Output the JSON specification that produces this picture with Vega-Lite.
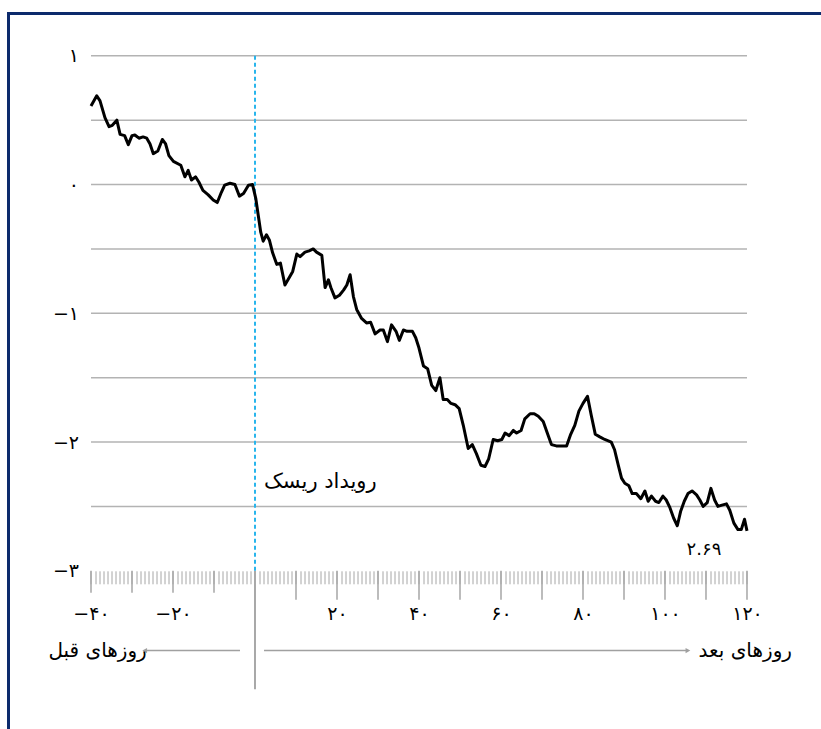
{
  "$schema": "https://vega.github.io/schema/vega-lite/v6.json",
  "width": 812.5,
  "height": 715.5,
  "autosize": "none",
  "padding": {"left": 8.5, "top": 13.5, "right": 0, "bottom": 0},
  "background": "white",
  "config": {
    "view": {"stroke": null},
    "font": "DejaVu Sans"
  },
  "datasets": {
    "series": [
      {"day": -40, "v": 0.61}, {"day": -38.6, "v": 0.69}, {"day": -37.8, "v": 0.65}, {"day": -36.6, "v": 0.52},
      {"day": -35.6, "v": 0.45}, {"day": -34.8, "v": 0.46}, {"day": -33.7, "v": 0.5}, {"day": -32.9, "v": 0.39},
      {"day": -31.8, "v": 0.38}, {"day": -30.9, "v": 0.31}, {"day": -30, "v": 0.38}, {"day": -29.3, "v": 0.385},
      {"day": -28.3, "v": 0.36}, {"day": -27.3, "v": 0.37}, {"day": -26.4, "v": 0.36}, {"day": -25.6, "v": 0.315},
      {"day": -24.8, "v": 0.24}, {"day": -23.7, "v": 0.26}, {"day": -22.6, "v": 0.35}, {"day": -21.8, "v": 0.315},
      {"day": -21, "v": 0.225}, {"day": -19.9, "v": 0.18}, {"day": -18.1, "v": 0.15}, {"day": -17.1, "v": 0.06},
      {"day": -16.3, "v": 0.11}, {"day": -15.5, "v": 0.035}, {"day": -14.5, "v": 0.06}, {"day": -13.7, "v": 0.02},
      {"day": -12.7, "v": -0.045}, {"day": -11.4, "v": -0.08}, {"day": -10.2, "v": -0.12}, {"day": -9.2, "v": -0.14},
      {"day": -8.2, "v": -0.06}, {"day": -7.4, "v": -0.005}, {"day": -6.1, "v": 0.01}, {"day": -4.9, "v": 0.0},
      {"day": -3.8, "v": -0.09}, {"day": -2.8, "v": -0.07}, {"day": -1.6, "v": -0.005}, {"day": -0.6, "v": 0.0},
      {"day": 0.2, "v": -0.11}, {"day": 0.8, "v": -0.24}, {"day": 1.4, "v": -0.37}, {"day": 2.0, "v": -0.44},
      {"day": 2.8, "v": -0.39}, {"day": 3.5, "v": -0.43}, {"day": 4.3, "v": -0.53}, {"day": 5.3, "v": -0.62},
      {"day": 6.2, "v": -0.61}, {"day": 7.3, "v": -0.78}, {"day": 8.4, "v": -0.72}, {"day": 9.2, "v": -0.675},
      {"day": 10.2, "v": -0.54}, {"day": 11.0, "v": -0.56}, {"day": 12.2, "v": -0.525}, {"day": 13.2, "v": -0.515},
      {"day": 14.2, "v": -0.5}, {"day": 15.0, "v": -0.525}, {"day": 16.3, "v": -0.55}, {"day": 17.1, "v": -0.8},
      {"day": 17.9, "v": -0.74}, {"day": 18.5, "v": -0.8}, {"day": 19.5, "v": -0.88}, {"day": 20.6, "v": -0.86},
      {"day": 21.6, "v": -0.82}, {"day": 22.4, "v": -0.78}, {"day": 23.2, "v": -0.7}, {"day": 24.0, "v": -0.87},
      {"day": 24.8, "v": -0.97}, {"day": 26.0, "v": -1.04}, {"day": 27.2, "v": -1.075}, {"day": 28.2, "v": -1.07},
      {"day": 29.3, "v": -1.16}, {"day": 30.5, "v": -1.13}, {"day": 31.3, "v": -1.13}, {"day": 32.3, "v": -1.22},
      {"day": 33.3, "v": -1.09}, {"day": 34.4, "v": -1.14}, {"day": 35.2, "v": -1.21}, {"day": 36.2, "v": -1.13},
      {"day": 37.1, "v": -1.14}, {"day": 38.4, "v": -1.14}, {"day": 39.2, "v": -1.19}, {"day": 40.0, "v": -1.27},
      {"day": 41.1, "v": -1.41}, {"day": 42.1, "v": -1.43}, {"day": 43.1, "v": -1.56}, {"day": 44.1, "v": -1.6},
      {"day": 45.1, "v": -1.5}, {"day": 45.9, "v": -1.67}, {"day": 46.9, "v": -1.67}, {"day": 47.8, "v": -1.7},
      {"day": 48.8, "v": -1.71}, {"day": 49.8, "v": -1.74}, {"day": 50.8, "v": -1.87}, {"day": 52.0, "v": -2.05},
      {"day": 53.0, "v": -2.02}, {"day": 54.0, "v": -2.09}, {"day": 55.1, "v": -2.18}, {"day": 56.1, "v": -2.19},
      {"day": 57.0, "v": -2.13}, {"day": 58.1, "v": -1.98}, {"day": 59.2, "v": -1.99}, {"day": 60.2, "v": -1.98},
      {"day": 61.0, "v": -1.93}, {"day": 62.0, "v": -1.95}, {"day": 63.0, "v": -1.91}, {"day": 63.8, "v": -1.93},
      {"day": 64.9, "v": -1.91}, {"day": 65.8, "v": -1.82}, {"day": 67.1, "v": -1.78}, {"day": 68.1, "v": -1.78},
      {"day": 69.1, "v": -1.8}, {"day": 70.3, "v": -1.84}, {"day": 71.4, "v": -1.94}, {"day": 72.3, "v": -2.02},
      {"day": 73.5, "v": -2.03}, {"day": 74.8, "v": -2.03}, {"day": 76.0, "v": -2.03}, {"day": 77.0, "v": -1.94},
      {"day": 78.0, "v": -1.87}, {"day": 79.0, "v": -1.76}, {"day": 80.0, "v": -1.7}, {"day": 81.1, "v": -1.645},
      {"day": 82.0, "v": -1.79}, {"day": 83.0, "v": -1.94}, {"day": 84.1, "v": -1.96}, {"day": 85.3, "v": -1.98},
      {"day": 86.9, "v": -2.0}, {"day": 87.7, "v": -2.06}, {"day": 88.6, "v": -2.18}, {"day": 89.4, "v": -2.28},
      {"day": 90.2, "v": -2.32}, {"day": 91.2, "v": -2.34}, {"day": 92.0, "v": -2.4}, {"day": 93.0, "v": -2.4},
      {"day": 94.1, "v": -2.44}, {"day": 95.1, "v": -2.38}, {"day": 95.9, "v": -2.46}, {"day": 96.7, "v": -2.42},
      {"day": 97.7, "v": -2.46}, {"day": 98.5, "v": -2.47}, {"day": 99.5, "v": -2.42}, {"day": 100.3, "v": -2.45},
      {"day": 101.2, "v": -2.51}, {"day": 102.1, "v": -2.59}, {"day": 103.0, "v": -2.65}, {"day": 103.8, "v": -2.54},
      {"day": 104.7, "v": -2.46}, {"day": 105.6, "v": -2.4}, {"day": 106.6, "v": -2.38}, {"day": 107.7, "v": -2.41},
      {"day": 108.5, "v": -2.45}, {"day": 109.3, "v": -2.5}, {"day": 110.3, "v": -2.47}, {"day": 111.2, "v": -2.36},
      {"day": 112.1, "v": -2.45}, {"day": 112.9, "v": -2.5}, {"day": 113.9, "v": -2.49}, {"day": 115.0, "v": -2.48},
      {"day": 115.8, "v": -2.53}, {"day": 116.8, "v": -2.63}, {"day": 117.8, "v": -2.68}, {"day": 118.6, "v": -2.68},
      {"day": 119.4, "v": -2.6}, {"day": 120, "v": -2.69}
    ],
    "grid": [{"g": 1}, {"g": 0.5}, {"g": 0}, {"g": -0.5}, {"g": -1}, {"g": -1.5}, {"g": -2}, {"g": -2.5}],
    "majorBefore": [{"t": -40}, {"t": -30}, {"t": -20}, {"t": -10}],
    "majorAfter": [{"t": 10}, {"t": 20}, {"t": 30}, {"t": 40}, {"t": 50}, {"t": 60}, {"t": 70}, {"t": 80}, {"t": 90}, {"t": 100}, {"t": 110}, {"t": 120}],
    "one": [{"k": 1}]
  },
  "layer": [
    {
      "data": {"name": "grid"},
      "mark": {"type": "rule", "color": "#b3b3b3", "strokeWidth": 1.5},
      "encoding": {
        "y": {"field": "g", "type": "quantitative", "scale": {"domain": [-4.2288, 1.3285], "nice": false, "zero": false}, "axis": {
          "values": [1, 0, -1, -2, -3],
          "orient": "left",
          "offset": -70,
          "domain": false,
          "ticks": false,
          "grid": false,
          "labelPadding": 0,
          "labelFontSize": 19,
          "labelColor": "#000000",
          "labelFont": "DejaVu Sans",
          "title": null,
          "labelExpr": "datum.value === 1 ? '۱' : datum.value === 0 ? '۰' : datum.value === -1 ? '−۱' : datum.value === -2 ? '−۲' : datum.value === -3 ? '−۳' : ''"
        }},
        "x": {"datum": -40, "type": "quantitative", "scale": {"domain": [-60.122, 138.05], "nice": false, "zero": false}, "axis": {
          "values": [-40,-39,-38,-37,-36,-35,-34,-33,-32,-31,-30,-29,-28,-27,-26,-25,-24,-23,-22,-21,-20,-19,-18,-17,-16,-15,-14,-13,-12,-11,-10,-9,-8,-7,-6,-5,-4,-3,-2,-1,1,2,3,4,5,6,7,8,9,10,11,12,13,14,15,16,17,18,19,20,21,22,23,24,25,26,27,28,29,30,31,32,33,34,35,36,37,38,39,40,41,42,43,44,45,46,47,48,49,50,51,52,53,54,55,56,57,58,59,60,61,62,63,64,65,66,67,68,69,70,71,72,73,74,75,76,77,78,79,80,81,82,83,84,85,86,87,88,89,90,91,92,93,94,95,96,97,98,99,100,101,102,103,104,105,106,107,108,109,110,111,112,113,114,115,116,117,118,119,120],
          "tickCount": 400,
          "orient": "bottom",
          "offset": -158.2,
          "domain": false,
          "grid": false,
          "title": null,
          "tickColor": "#a6a6a6",
          "tickWidth": 1,
          "tickSize": 13,
          "labelOverlap": false,
          "labelFlush": false,
          "labelPadding": 21,
          "labelFontSize": 19,
          "labelColor": "#000000",
          "labelFont": "DejaVu Sans",
          "labelExpr": "datum.value === -40 ? '−۴۰' : datum.value === -20 ? '−۲۰' : datum.value === 20 ? '۲۰' : datum.value === 40 ? '۴۰' : datum.value === 60 ? '۶۰' : datum.value === 80 ? '۸۰' : datum.value === 100 ? '۱۰۰' : datum.value === 120 ? '۱۲۰' : ''"
        }},
        "x2": {"datum": 120}
      }
    },
    {
      "data": {"name": "majorBefore"},
      "mark": {"type": "rule", "color": "#a6a6a6", "strokeWidth": 1.5},
      "encoding": {"x": {"field": "t", "type": "quantitative"}, "y": {"datum": -3, "type": "quantitative"}, "y2": {"datum": -3.171}}
    },
    {
      "data": {"name": "majorAfter"},
      "mark": {"type": "rule", "color": "#a6a6a6", "strokeWidth": 1.5},
      "encoding": {"x": {"field": "t", "type": "quantitative"}, "y": {"datum": -3, "type": "quantitative"}, "y2": {"datum": -3.225}}
    },
    {
      "data": {"name": "one"},
      "mark": {"type": "rule", "color": "#0c2a6c", "strokeWidth": 3, "strokeCap": "square"},
      "encoding": {"x": {"datum": -60.122, "type": "quantitative"}, "x2": {"datum": 138.05}, "y": {"datum": 1.3285, "type": "quantitative"}}
    },
    {
      "data": {"name": "one"},
      "mark": {"type": "rule", "color": "#0c2a6c", "strokeWidth": 3, "strokeCap": "square"},
      "encoding": {"x": {"datum": -60.122, "type": "quantitative"}, "y": {"datum": 1.3285, "type": "quantitative"}, "y2": {"datum": -4.2288}}
    },
    {
      "data": {"name": "one"},
      "mark": {"type": "rule", "color": "#8c8c8c", "strokeWidth": 1.5},
      "encoding": {"x": {"datum": 0, "type": "quantitative"}, "y": {"datum": -3, "type": "quantitative"}, "y2": {"datum": -3.92}}
    },
    {
      "data": {"name": "one"},
      "mark": {"type": "rule", "color": "#29b5ec", "strokeWidth": 2, "strokeDash": [4, 3]},
      "encoding": {"x": {"datum": 0, "type": "quantitative"}, "y": {"datum": 1, "type": "quantitative"}, "y2": {"datum": -3}}
    },
    {
      "data": {"name": "one"},
      "mark": {"type": "rule", "color": "#a0a0a0", "strokeWidth": 1.5},
      "encoding": {"x": {"datum": -3.66, "type": "quantitative"}, "x2": {"datum": -26.6}, "y": {"datum": -3.62, "type": "quantitative"}}
    },
    {
      "data": {"name": "one"},
      "mark": {"type": "rule", "color": "#a0a0a0", "strokeWidth": 1.5},
      "encoding": {"x": {"datum": 2.2, "type": "quantitative"}, "x2": {"datum": 105.2}, "y": {"datum": -3.62, "type": "quantitative"}}
    },
    {
      "data": {"name": "one"},
      "mark": {"type": "point", "shape": "triangle-left", "filled": true, "color": "#a0a0a0", "size": 30, "opacity": 1},
      "encoding": {"x": {"datum": -26.9, "type": "quantitative"}, "y": {"datum": -3.62, "type": "quantitative"}}
    },
    {
      "data": {"name": "one"},
      "mark": {"type": "point", "shape": "triangle-right", "filled": true, "color": "#a0a0a0", "size": 30, "opacity": 1},
      "encoding": {"x": {"datum": 105.6, "type": "quantitative"}, "y": {"datum": -3.62, "type": "quantitative"}}
    },
    {
      "data": {"name": "one"},
      "mark": {"type": "text", "text": "رویداد ریسک", "align": "left", "baseline": "middle", "fontSize": 21, "font": "DejaVu Sans", "color": "#000000"},
      "encoding": {"x": {"datum": 2.2, "type": "quantitative"}, "y": {"datum": -2.31, "type": "quantitative"}}
    },
    {
      "data": {"name": "one"},
      "mark": {"type": "text", "text": "۲.۶۹", "align": "center", "baseline": "middle", "fontSize": 18, "font": "DejaVu Sans", "color": "#000000"},
      "encoding": {"x": {"datum": 109.5, "type": "quantitative"}, "y": {"datum": -2.84, "type": "quantitative"}}
    },
    {
      "data": {"name": "one"},
      "mark": {"type": "text", "text": "روزهای قبل", "align": "right", "baseline": "middle", "fontSize": 20, "font": "DejaVu Sans", "color": "#000000"},
      "encoding": {"x": {"datum": -26.4, "type": "quantitative"}, "y": {"datum": -3.62, "type": "quantitative"}}
    },
    {
      "data": {"name": "one"},
      "mark": {"type": "text", "text": "روزهای بعد", "align": "left", "baseline": "middle", "fontSize": 20, "font": "DejaVu Sans", "color": "#000000"},
      "encoding": {"x": {"datum": 108.2, "type": "quantitative"}, "y": {"datum": -3.62, "type": "quantitative"}}
    },
    {
      "data": {"name": "series"},
      "mark": {"type": "line", "color": "#000000", "strokeWidth": 3, "strokeJoin": "round"},
      "encoding": {
        "x": {"field": "day", "type": "quantitative"},
        "y": {"field": "v", "type": "quantitative"}
      }
    }
  ]
}
